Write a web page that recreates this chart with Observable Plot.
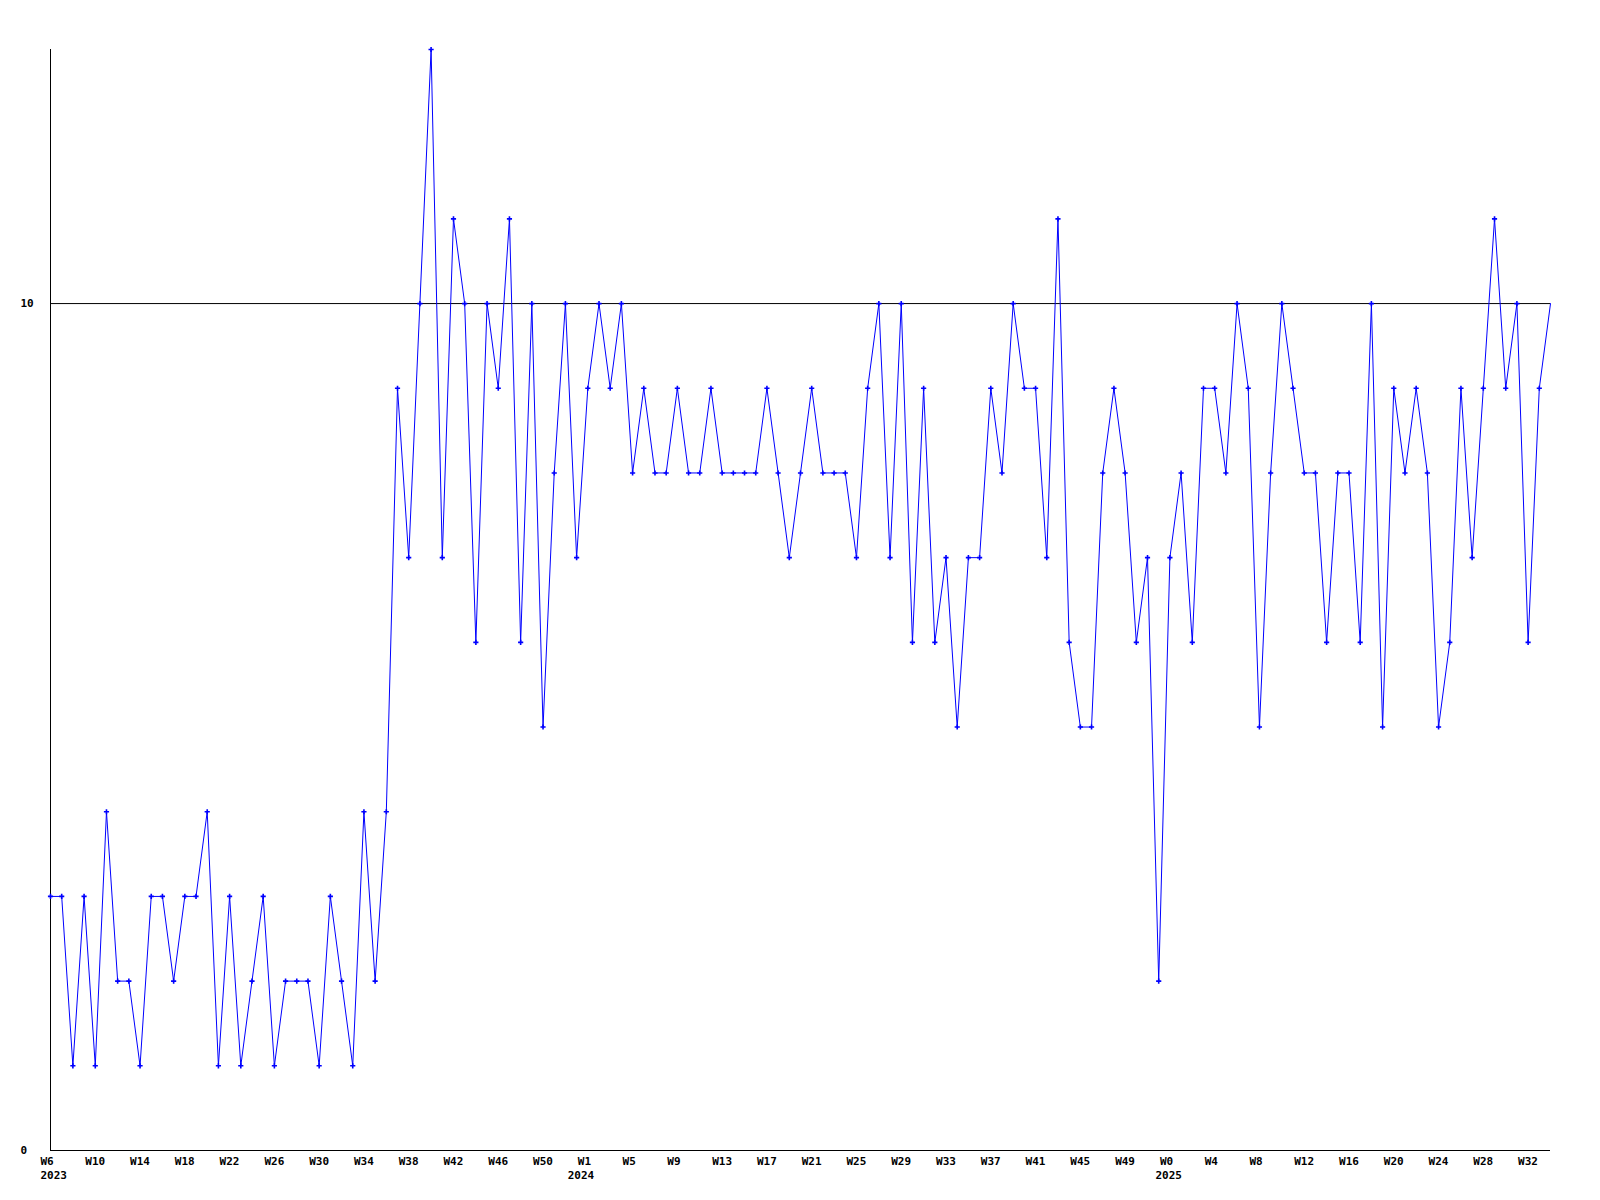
<!DOCTYPE html>
<html>
<head>
<meta charset="utf-8">
<script src="https://cdn.jsdelivr.net/npm/d3@7"></script>
<script src="https://cdn.jsdelivr.net/npm/@observablehq/plot@0.6"></script>
<style>
  html, body { margin: 0; padding: 0; background: #ffffff; }
  #chart { width: 1600px; height: 1200px; }
</style>
</head>
<body>
<div id="chart"></div>
<script>
// Weekly values, one per week starting at W6 2023
const values = [
  3,3,1,3,1,4,2,2,1,3, 3,2,3,3,4,1,3,1,2,3, 1,2,2,2,1,3,2,1,4,2, 4,
  9,7,10,13,7,11,10,6,10,9, 11,6,10,5,8,10,7,9,10,9, 10,8,
  9,8,8,9,8,8,9,8,8,8, 8,9,8,7,8,9,8,8,8,7, 9,10,7,10,6,9,6,7,
  5,7,7,9,8,10,9,9,7,11, 6,5,5,8,9,8,6,7,2,7, 8,6,9,9,8,10,9,
  5,8,10,9,8,8,6,8,8,6, 10,5,9,8,9,8,5,6,9,7, 9,11,9,10,6,9,10
];

// x-axis tick labels (one every 4 weeks)
const tickLabels = [
  "W6","W10","W14","W18","W22","W26","W30","W34","W38","W42","W46","W50",
  "W1","W5","W9","W13","W17","W21","W25","W29","W33","W37","W41","W45","W49",
  "W0","W4","W8","W12","W16","W20","W24","W28","W32"
];
const tickStep = 4;

// year labels and their (week-index) anchor positions
const yearLabels = ["2023", "2024", "2025"];
const yearAnchors = [0, 47.1, 99.6];

// y-axis tick values
const yTicks = [0, 10];
const yMax = 13;

const data = values.map((v, i) => ({i, v}));
const ticks = tickLabels.map((label, k) => ({i: k * tickStep, label}));
const years = yearLabels.map((label, k) => ({i: yearAnchors[k], label}));
const n = values.length;

const chart = Plot.plot({
  width: 1600,
  height: 1200,
  marginLeft: 50,
  marginRight: 50,
  marginTop: 49,
  marginBottom: 50,
  style: {
    fontFamily: "'DejaVu Sans Mono', 'Liberation Mono', monospace",
    fontWeight: "bold",
    fontSize: "11px",
    background: "#ffffff",
    color: "#000000"
  },
  x: {domain: [0, n - 1], axis: null},
  y: {domain: [0, yMax], axis: null},
  marks: [
    Plot.ruleY([10], {stroke: "#000000", strokeWidth: 1}),
    Plot.ruleY([0], {stroke: "#000000", strokeWidth: 1}),
    Plot.ruleX([0], {stroke: "#000000", strokeWidth: 1}),
    Plot.line(data, {x: "i", y: "v", stroke: "#0000ff", strokeWidth: 1}),
    Plot.dot(data.filter(d => d.i < n - 1), {
      x: "i", y: "v", symbol: "plus", r: 1.8, stroke: "#0000ff", strokeWidth: 1.6
    }),
    Plot.text(ticks, {
      x: "i", text: "label", frameAnchor: "bottom", dy: 14, dx: -10,
      textAnchor: "start", fill: "#000000"
    }),
    Plot.text(years, {
      x: "i", text: "label", frameAnchor: "bottom", dy: 28, dx: -10,
      textAnchor: "start", fill: "#000000"
    }),
    Plot.text(yTicks, {
      y: d => d, text: d => String(d), frameAnchor: "left", dx: -30,
      textAnchor: "start", fill: "#000000"
    })
  ]
});
document.getElementById("chart").appendChild(chart);
</script>
</body>
</html>
